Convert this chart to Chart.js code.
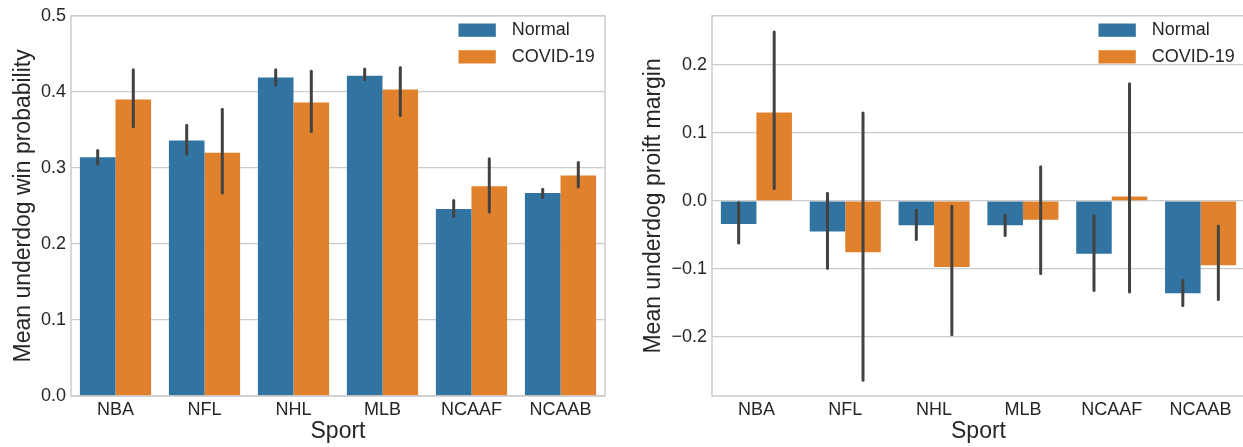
<!DOCTYPE html>
<html>
<head>
<meta charset="utf-8">
<script src="https://cdn.jsdelivr.net/npm/chart.js@4/dist/chart.umd.min.js"></script>
<style>
  html, body { margin: 0; padding: 0; background: #fff; overflow: hidden; }
  #wrap { position: relative; width: 1243px; height: 447px; overflow: hidden; }
  canvas { position: absolute; top: 0; }
  #c-win    { left: 0; }
  #c-profit { left: 620px; }
</style>
</head>
<body>
<div id="wrap">
  <canvas id="c-win" width="620" height="447"></canvas>
  <canvas id="c-profit" width="640" height="447"></canvas>
</div>
<script>
// ── Data ──────────────────────────────────────────────────────────────────────
const sports = ['NBA', 'NFL', 'NHL', 'MLB', 'NCAAF', 'NCAAB'];
const seriesNames = ['Normal', 'COVID-19'];

// Mean underdog win probability (+ 95% CI)
const winNormal   = [0.314, 0.336, 0.419, 0.421, 0.246, 0.267];
const winNormalLo = [0.305, 0.318, 0.409, 0.416, 0.236, 0.261];
const winNormalHi = [0.323, 0.356, 0.429, 0.430, 0.257, 0.272];
const winCovid    = [0.390, 0.320, 0.386, 0.403, 0.276, 0.290];
const winCovidLo  = [0.354, 0.267, 0.348, 0.369, 0.242, 0.275];
const winCovidHi  = [0.429, 0.377, 0.427, 0.432, 0.312, 0.307];
const winTicks    = [0.0, 0.1, 0.2, 0.3, 0.4, 0.5];

// Mean underdog profit margin (+ 95% CI)
const profitNormal   = [-0.034, -0.045, -0.036, -0.036, -0.078, -0.136];
const profitNormalLo = [-0.062, -0.099, -0.057, -0.051, -0.132, -0.154];
const profitNormalHi = [-0.003,  0.011, -0.014, -0.021, -0.022, -0.117];
const profitCovid    = [ 0.130, -0.0755, -0.0975, -0.028, 0.0064, -0.0946];
const profitCovidLo  = [ 0.018, -0.264, -0.197, -0.107, -0.134, -0.145];
const profitCovidHi  = [ 0.248,  0.129, -0.008,  0.050,  0.172, -0.037];
const profitTicks    = [-0.2, -0.1, 0.0, 0.1, 0.2];

// ── Style ─────────────────────────────────────────────────────────────────────
const BLUE = '#3274a1', ORANGE = '#e1812c', ERR = '#424242';
const INK = '#262626', GRID = '#cccccc';
Chart.defaults.font.family = "'Liberation Sans', Arial, sans-serif";
Chart.defaults.color = INK;

// frame round the plot area (seaborn whitegrid spines)
const framePlugin = {
  id: 'frame',
  afterDatasetsDraw(chart) {
    const { ctx, chartArea: a } = chart;
    ctx.save();
    ctx.strokeStyle = GRID;
    ctx.lineWidth = 1.5;
    ctx.strokeRect(a.left, a.top, a.right - a.left, a.bottom - a.top);
    ctx.restore();
  }
};

// error bars, from dataset.errLo / dataset.errHi
const errorBarPlugin = {
  id: 'errbars',
  afterDatasetsDraw(chart) {
    const { ctx } = chart;
    const y = chart.scales.y;
    ctx.save();
    ctx.strokeStyle = ERR;
    ctx.lineWidth = 3;
    ctx.lineCap = 'round';
    chart.data.datasets.forEach((ds, i) => {
      chart.getDatasetMeta(i).data.forEach((bar, j) => {
        ctx.beginPath();
        ctx.moveTo(bar.x, y.getPixelForValue(ds.errLo[j]));
        ctx.lineTo(bar.x, y.getPixelForValue(ds.errHi[j]));
        ctx.stroke();
      });
    });
    ctx.restore();
  }
};

// legend inside the plot, upper right
const innerLegendPlugin = {
  id: 'innerLegend',
  afterDraw(chart) {
    const { ctx, chartArea: a } = chart;
    const x0 = a.right - 146.5;
    ctx.save();
    ctx.font = `18px ${Chart.defaults.font.family}`;
    ctx.textBaseline = 'middle';
    chart.data.datasets.forEach((ds, i) => {
      const top = a.top + 7.7 + i * 26.7;
      ctx.fillStyle = ds.backgroundColor;
      ctx.fillRect(x0, top, 37.3, 13.3);
      ctx.fillStyle = INK;
      ctx.fillText(ds.label, x0 + 53.3, top + 7);
    });
    ctx.restore();
  }
};

function fmtTick(v) {
  const s = Math.abs(v).toFixed(1);
  return v < -1e-9 ? '\u2212' + s : s;
}

function makeChart(canvasId, opts) {
  return new Chart(document.getElementById(canvasId), {
    type: 'bar',
    data: {
      labels: sports,
      datasets: [
        { label: seriesNames[0], data: opts.normal, errLo: opts.normalLo, errHi: opts.normalHi,
          backgroundColor: BLUE, borderWidth: 0 },
        { label: seriesNames[1], data: opts.covid, errLo: opts.covidLo, errHi: opts.covidHi,
          backgroundColor: ORANGE, borderWidth: 0 },
      ]
    },
    options: {
      responsive: false,
      animation: false,
      events: [],
      categoryPercentage: 0.8,
      barPercentage: 1.0,
      layout: { padding: { top: 15, right: 15, bottom: 0, left: 0 } },
      plugins: { legend: { display: false }, tooltip: { enabled: false } },
      scales: {
        x: {
          grid: { display: false, drawTicks: false },
          border: { display: false },
          ticks: { font: { size: 18 }, color: INK, padding: 3, maxRotation: 0 },
          title: { display: true, text: 'Sport', font: { size: 23 }, color: INK,
                   padding: { top: 0, bottom: 2 } },
          afterFit: s => { s.height = 51; }
        },
        y: {
          min: opts.min, max: opts.max,
          grid: { color: GRID, lineWidth: 1.2, drawTicks: false },
          border: { display: false },
          ticks: { font: { size: 18 }, color: INK, padding: 5, callback: v => fmtTick(v) },
          afterBuildTicks: s => { s.ticks = opts.ticks.map(v => ({ value: v })); },
          title: { display: true, text: opts.yTitle, font: { size: 23 }, color: INK,
                   padding: { top: opts.titlePad, bottom: 0 } },
          afterFit: s => { s.width = opts.axisWidth; }
        }
      }
    },
    plugins: [errorBarPlugin, framePlugin, innerLegendPlugin]
  });
}

makeChart('c-win', {
  normal: winNormal, normalLo: winNormalLo, normalHi: winNormalHi,
  covid: winCovid, covidLo: winCovidLo, covidHi: winCovidHi,
  min: 0, max: 0.5, ticks: winTicks,
  yTitle: 'Mean underdog win probability', axisWidth: 71, titlePad: 9.5
});

makeChart('c-profit', {
  normal: profitNormal, normalLo: profitNormalLo, normalHi: profitNormalHi,
  covid: profitCovid, covidLo: profitCovidLo, covidHi: profitCovidHi,
  min: -0.287, max: 0.272, ticks: profitTicks,
  yTitle: 'Mean underdog proift margin', axisWidth: 92, titlePad: 19.5
});
</script>
</body>
</html>
